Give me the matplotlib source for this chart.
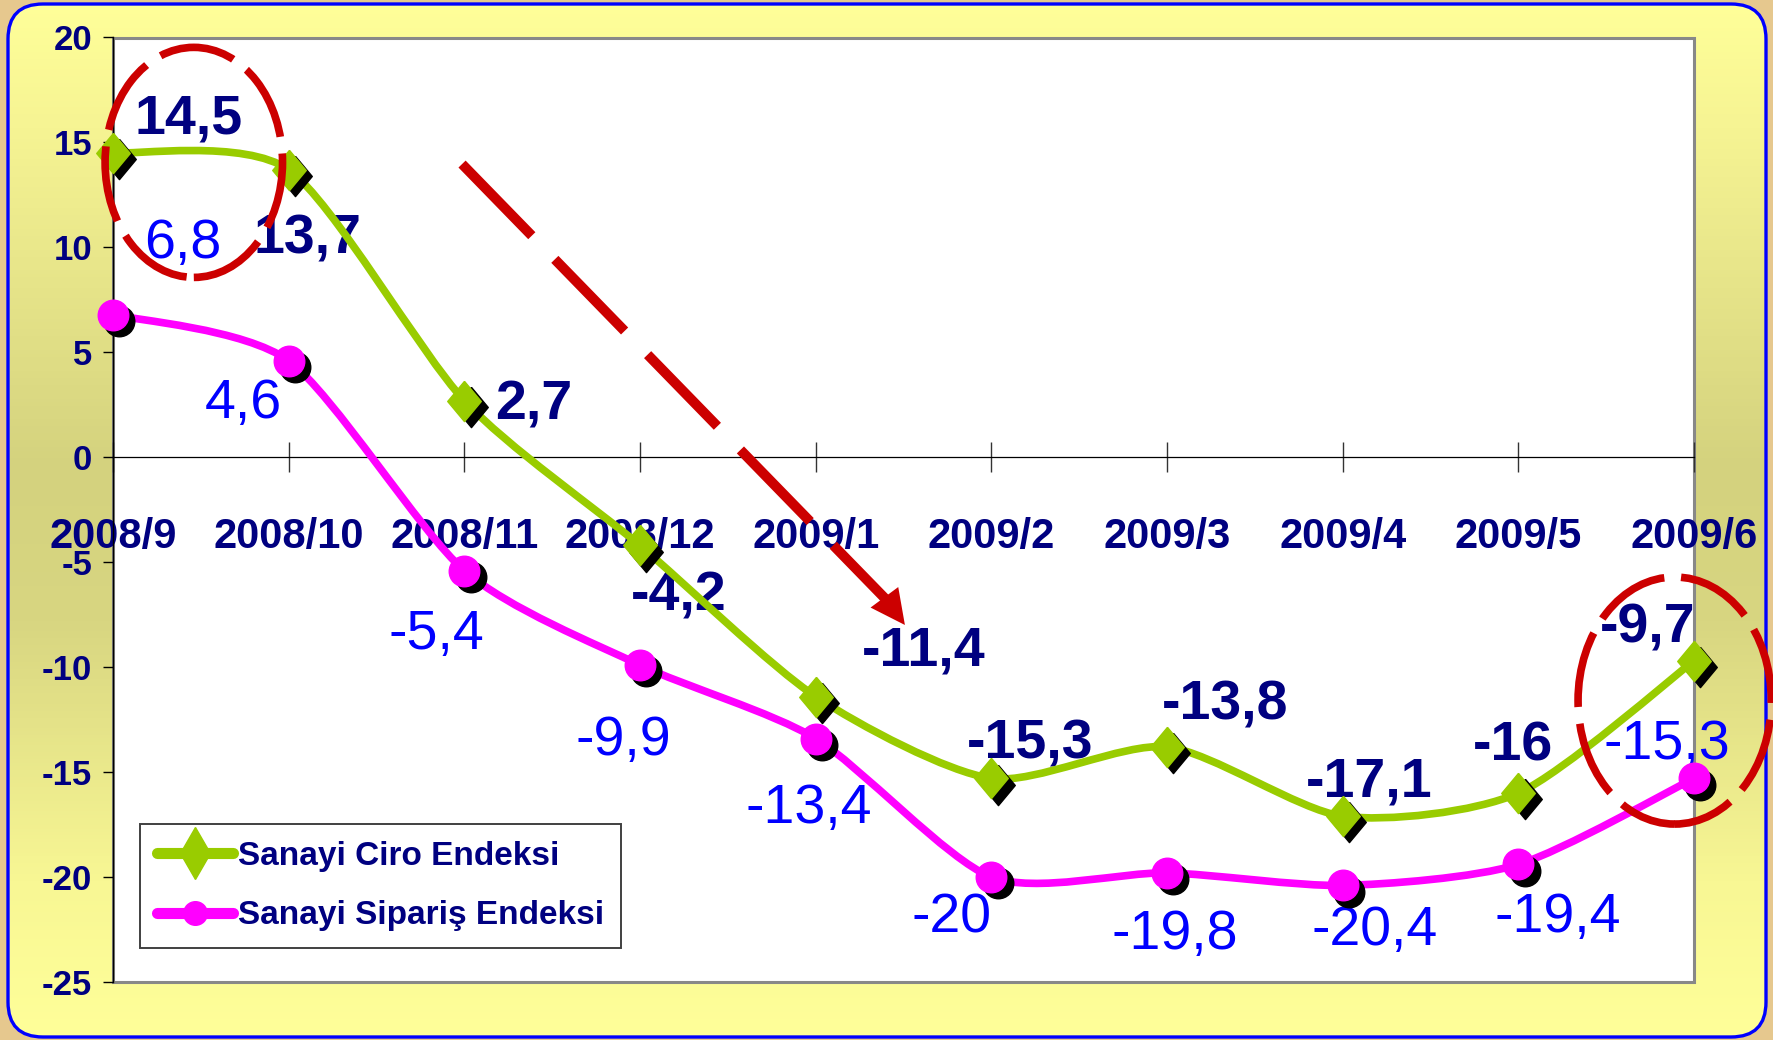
import numpy as np
import matplotlib
matplotlib.use("Agg")
import matplotlib.pyplot as plt
from matplotlib.path import Path
from matplotlib.patches import PathPatch, Ellipse, FancyBboxPatch, Rectangle, FancyArrowPatch
from matplotlib.lines import Line2D
from matplotlib.transforms import ScaledTranslation
from matplotlib.colors import LinearSegmentedColormap

# data
months = ["2008/9", "2008/10", "2008/11", "2008/12", "2009/1",
          "2009/2", "2009/3", "2009/4", "2009/5", "2009/6"]
ciro = [14.5, 13.7, 2.7, -4.2, -11.4, -15.3, -13.8, -17.1, -16, -9.7]
siparis = [6.8, 4.6, -5.4, -9.9, -13.4, -20, -19.8, -20.4, -19.4, -15.3]
y_ticks = [20, 15, 10, 5, 0, -5, -10, -15, -20, -25]

# label offsets in points (dx, dy)
ciro_off = [(54.6, 24), (13.8, -50.5), (50, -3.3), (28, -36.7), (78, 32.6),
            (28, 24.5), (42, 30), (19, 24), (-4, 33.4), (-33.5, 23.6)]
sip_off = [(50.5, 51), (-32.6, -31.5), (-20.4, -46), (-12.2, -54.6), (-4.9, -50.5),
           (-28.5, -29.5), (5.7, -44.8), (22.8, -32.6), (28.5, -38.3), (-19.6, 24.4)]

GREEN = "#99CC00"
MAGENTA = "#FF00FF"
NAVY = "#000080"
BLUE = "#0000FF"
RED = "#CC0000"
FONT = ["Liberation Sans", "DejaVu Sans"]

plt.rcParams["font.family"] = FONT

W, H = 1774, 1040
fig = plt.figure(figsize=(W / 100, H / 100), dpi=100)
fig.patch.set_facecolor("#E6C88E")

# background panel with vertical gradient and rounded blue border
bg = fig.add_axes([0, 0, 1, 1], zorder=-10)
bg.set_xlim(0, W)
bg.set_ylim(0, H)
bg.axis("off")
cmap = LinearSegmentedColormap.from_list(
    "bg", [(0, "#FFFF99"), (0.12, "#F6F493"), (0.45, "#D4D27E"),
           (0.6, "#D8D681"), (0.85, "#F8F794"), (1, "#FFFF99")])
img = bg.imshow(np.linspace(0, 1, 300).reshape(-1, 1), cmap=cmap, aspect="auto",
                extent=[0, W, 0, H], origin="upper")
panel = FancyBboxPatch((8, 3), W - 16, H - 7, boxstyle="round,pad=0,rounding_size=35",
                       facecolor="none", edgecolor=BLUE, linewidth=2.4)
bg.add_patch(panel)
img.set_clip_path(panel)

ax = fig.add_axes([113 / W, 1 - 982 / H, 1581 / W, 944.5 / H])
ax.set_xlim(0, 9)
ax.set_ylim(-25, 20)
ax.set_facecolor("white")
ax.set_axisbelow(True)
ax.add_patch(Rectangle((0, 0), 1, 1, transform=ax.transAxes, fill=False,
                       edgecolor="#888888", linewidth=2.2, zorder=0.4, clip_on=False))

for s in ["top", "right"]:
    ax.spines[s].set_visible(False)
ax.spines["bottom"].set_position(("data", 0))
ax.spines["bottom"].set_linewidth(0.9)
ax.spines["bottom"].set_zorder(1)
ax.spines["left"].set_linewidth(1.0)
ax.spines["left"].set_zorder(1)

x = np.arange(len(months))
ax.set_xticks(x)
ax.set_xticklabels(months)
ax.tick_params(axis="x", direction="inout", length=22, width=1, color="#333333",
               pad=32, labelsize=30, labelcolor=NAVY)
ax.set_yticks(y_ticks)
ax.set_yticklabels([str(v) for v in y_ticks])
ax.tick_params(axis="y", direction="out", length=7, width=1, pad=8,
               labelsize=25, labelcolor=NAVY)
for lab in ax.get_xticklabels() + ax.get_yticklabels():
    lab.set_fontweight("bold")


def smooth_path(xs, ys, k=8.0):
    pts = np.column_stack([xs, ys]).astype(float)
    verts = [pts[0]]
    codes = [Path.MOVETO]
    n = len(pts)
    for i in range(n - 1):
        p0 = pts[i - 1] if i > 0 else pts[i]
        p1 = pts[i]
        p2 = pts[i + 1]
        p3 = pts[i + 2] if i + 2 < n else pts[i + 1]
        verts += [p1 + (p2 - p0) / k, p2 - (p3 - p1) / k, p2]
        codes += [Path.CURVE4] * 3
    return Path(verts, codes)


diamond = [(0, 1.2), (1, 0), (0, -1.2), (-1, 0), (0, 1.2)]
shadow = ax.transData + ScaledTranslation(4.5 / 72, -4.5 / 72, fig.dpi_scale_trans)

series = [
    (ciro, GREEN, diamond, 29),
    (siparis, MAGENTA, "o", 22),
]
for vals, col, mk, ms in series:
    ax.add_patch(PathPatch(smooth_path(x, vals), facecolor="none", edgecolor=col,
                           linewidth=5.5, zorder=2, clip_on=False))
    ax.plot(x, vals, linestyle="none", marker=mk, markersize=ms, color="black",
            transform=shadow, zorder=2.1, clip_on=False)
    ax.plot(x, vals, linestyle="none", marker=mk, markersize=ms, color=col,
            markeredgecolor=col, zorder=2.2, clip_on=False)


def fmt(v):
    return f"{v:g}".replace(".", ",")


for xi, v, off in zip(x, ciro, ciro_off):
    ax.annotate(fmt(v), (xi, v), xytext=off, textcoords="offset points",
                ha="center", va="center", fontsize=40, fontweight="bold",
                color=NAVY, zorder=1.5, annotation_clip=False)
for xi, v, off in zip(x, siparis, sip_off):
    ax.annotate(fmt(v), (xi, v), xytext=off, textcoords="offset points",
                ha="center", va="center", fontsize=40, color=BLUE,
                zorder=1.5, annotation_clip=False)

# red highlight circles
ax.add_patch(Ellipse((0.46, 14.05), 1.01, 10.96, fill=False, edgecolor=RED,
                     linewidth=5.5, linestyle=(0, (10, 2.2)), zorder=5, clip_on=False))
ax.add_patch(Ellipse((8.89, -11.59), 1.10, 11.77, fill=False, edgecolor=RED,
                     linewidth=5.5, linestyle=(2, (10, 2.2)), zorder=5, clip_on=False))

# dashed arrow
a_start = (1.987, 13.97)
a_tip = (4.508, -7.99)
a_base = (4.40, -6.77)
ax.plot([a_start[0], a_base[0]], [a_start[1], a_base[1]], color=RED, linewidth=7.2,
        linestyle=(0, (10, 3.3)), solid_capstyle="butt", dash_capstyle="butt",
        zorder=5, clip_on=False)
ax.add_patch(FancyArrowPatch(a_base, a_tip, arrowstyle="-|>", mutation_scale=62,
                             color=RED, linewidth=0, shrinkA=0, shrinkB=0, zorder=5))

handles = [
    Line2D([], [], color=GREEN, linewidth=8, marker="d", markersize=26,
           markeredgecolor=GREEN, solid_capstyle="round"),
    Line2D([], [], color=MAGENTA, linewidth=8, marker="o", markersize=17,
           markeredgecolor=MAGENTA, solid_capstyle="round"),
]
leg = ax.legend(handles, ["Sanayi Ciro Endeksi", "Sanayi Sipariş Endeksi"],
                loc="lower left", bbox_to_anchor=(0.017, 0.036), borderaxespad=0,
                fancybox=False, framealpha=1, edgecolor="#404040",
                prop={"family": FONT, "weight": "bold", "size": 24},
                handlelength=2.3, handletextpad=0.15, labelspacing=0.85,
                borderpad=0.5)
leg.get_frame().set_linewidth(1.4)
for t in leg.get_texts():
    t.set_color(NAVY)
leg.set_zorder(6)

fig.savefig("out.png", dpi=100, facecolor=fig.get_facecolor())
